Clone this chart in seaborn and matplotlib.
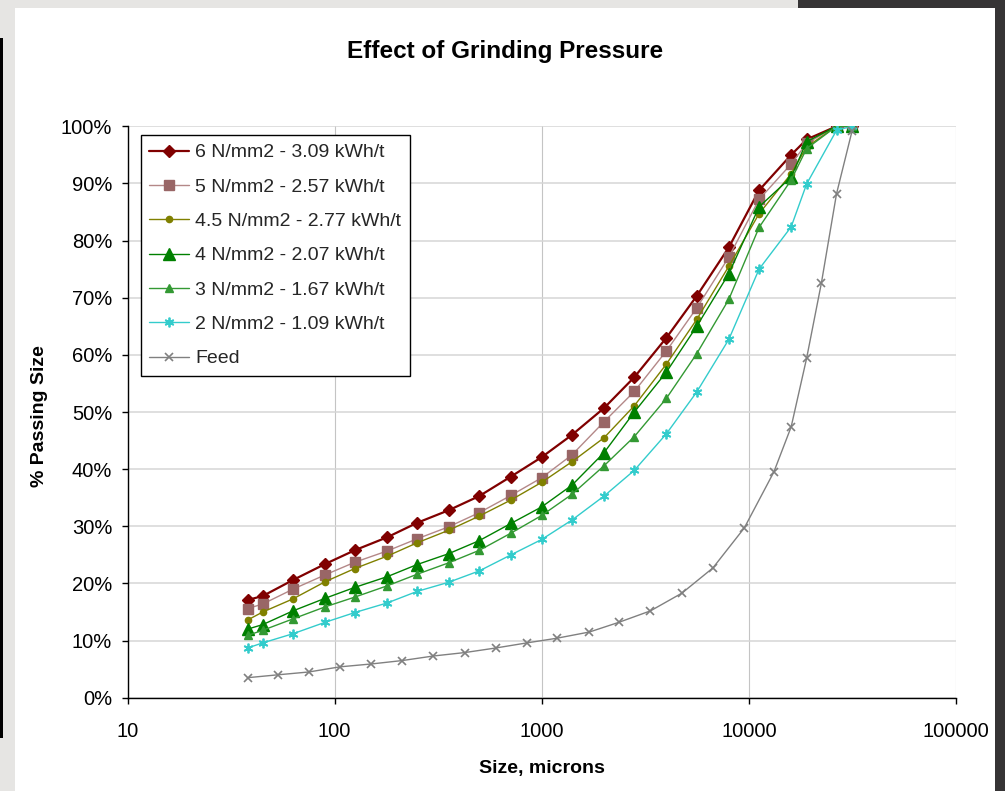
import matplotlib
matplotlib.use("Agg")
import matplotlib.pyplot as plt
from matplotlib.patches import Rectangle
from matplotlib.ticker import PercentFormatter, FixedLocator, FixedFormatter, NullLocator
import seaborn as sns
import pandas as pd

# ---------------- data ----------------
sizes = [38, 45, 63, 90, 125, 180, 250, 355, 500, 710, 1000, 1400, 2000, 2800,
         4000, 5600, 8000, 11200, 16000, 19000, 26500, 31500]
p6 = [17.1, 17.8, 20.6, 23.4, 25.8, 28.1, 30.6, 32.8, 35.3, 38.7, 42.1, 46.0,
      50.7, 56.1, 63.0, 70.3, 78.8, 88.8, 95.0, 97.7, 100, 100]
p5 = [15.6, 16.4, 19.0, 21.5, 23.7, 25.7, 27.8, 29.9, 32.4, 35.4, 38.5, 42.5,
      48.3, 53.6, 60.7, 68.2, 77.1, 87.2, 93.4, 97.0, 100, 100]
p45 = [13.6, 15.0, 17.3, 20.3, 22.6, 24.8, 27.1, 29.3, 31.8, 34.6, 37.7, 41.3,
       45.5, 51.1, 58.4, 66.2, 75.5, 84.7, 91.7, 96.4, 100, 100]
p4 = [12.0, 12.8, 15.2, 17.4, 19.3, 21.2, 23.3, 25.2, 27.5, 30.5, 33.4, 37.2,
      42.9, 50.0, 57.0, 65.0, 74.2, 85.9, 91.1, 97.3, 100, 100]
p3 = [10.9, 11.8, 13.8, 15.9, 17.6, 19.6, 21.6, 23.6, 25.8, 28.8, 31.9, 35.6,
      40.6, 45.7, 52.4, 60.2, 69.7, 82.3, 90.6, 96.1, 100, 100]
p2 = [8.7, 9.6, 11.2, 13.2, 14.9, 16.6, 18.6, 20.2, 22.2, 25.0, 27.7, 31.1,
      35.3, 39.8, 46.2, 53.5, 62.7, 75.0, 82.4, 89.9, 99.3, 100]
feed_sizes = [38, 53, 75, 106, 150, 212, 300, 425, 600, 850, 1180, 1700, 2360,
              3350, 4750, 6700, 9500, 13200, 16000, 19000, 22400, 26500, 31500]
feed = [3.5, 4.0, 4.5, 5.4, 5.9, 6.5, 7.3, 7.9, 8.7, 9.6, 10.4, 11.5, 13.2,
        15.2, 18.3, 22.7, 29.7, 39.5, 47.4, 59.4, 72.6, 88.2, 99.2]

labels = ["6 N/mm2 - 3.09 kWh/t", "5 N/mm2 - 2.57 kWh/t", "4.5 N/mm2 - 2.77 kWh/t",
          "4 N/mm2 - 2.07 kWh/t", "3 N/mm2 - 1.67 kWh/t", "2 N/mm2 - 1.09 kWh/t", "Feed"]
x_ticks = [10, 100, 1000, 10000, 100000]
x_tick_labels = ["10", "100", "1000", "10000", "100000"]
y_ticks = [0, 0.1, 0.2, 0.3, 0.4, 0.5, 0.6, 0.7, 0.8, 0.9, 1.0]

# ---------------- style ----------------
sns.set_theme(style="white")
plt.rcParams["font.family"] = ["Liberation Sans", "DejaVu Sans"]

fig = plt.figure(figsize=(10.05, 7.91), dpi=100)
fig.patch.set_facecolor("#e6e5e3")
# screenshot frame
fig.add_artist(Rectangle((15/1005, 0), 980/1005, 783/791, transform=fig.transFigure,
                         facecolor="white", edgecolor="none", zorder=-10))
fig.add_artist(Rectangle((798/1005, 783/791), 207/1005, 8/791, transform=fig.transFigure,
                         facecolor="#363435", edgecolor="none", zorder=-10))
fig.add_artist(Rectangle((995/1005, 0), 10/1005, 1, transform=fig.transFigure,
                         facecolor="#363435", edgecolor="none", zorder=-10))
fig.add_artist(Rectangle((0, 53/791), 2.5/1005, 700/791, transform=fig.transFigure,
                         facecolor="black", edgecolor="none", zorder=-10))

ax = fig.add_axes([127.5/1005, 1-697.7/791, 828.5/1005, 571.4/791])
ax.set_facecolor("white")

series = [
    dict(x=sizes, y=p6, label=labels[0], color="#800000", mfc="#800000", mec="#800000",
         marker="D", ms=6.5, lw=1.6, mew=1),
    dict(x=sizes, y=p5, label=labels[1], color="#b48888", mfc="#996666", mec="#996666",
         marker="s", ms=6.5, lw=1.0, mew=1),
    dict(x=sizes, y=p45, label=labels[2], color="#808000", mfc="#808000", mec="#808000",
         marker="o", ms=4.5, lw=1.0, mew=1),
    dict(x=sizes, y=p4, label=labels[3], color="#008000", mfc="#008000", mec="#008000",
         marker="^", ms=8.5, lw=1.0, mew=1),
    dict(x=sizes, y=p3, label=labels[4], color="#339933", mfc="#339933", mec="#339933",
         marker="^", ms=6, lw=1.0, mew=1),
    dict(x=sizes, y=p2, label=labels[5], color="#33cccc", mfc="#33cccc", mec="#33cccc",
         marker=(6, 2, 0), ms=7, lw=1.0, mew=1.3),
    dict(x=feed_sizes, y=feed, label=labels[6], color="#808080", mfc="#808080", mec="#808080",
         marker="x", ms=6, lw=1.0, mew=1.2),
]

for s in series:
    df = pd.DataFrame({"size": s["x"], "passing": [v / 100 for v in s["y"]]})
    sns.lineplot(data=df, x="size", y="passing", ax=ax, label=s["label"],
                 color=s["color"], marker=s["marker"], markersize=s["ms"],
                 markerfacecolor=s["mfc"], markeredgecolor=s["mec"],
                 markeredgewidth=s["mew"], linewidth=s["lw"],
                 estimator=None, sort=False, zorder=3)

ax.set_xscale("log")
ax.set_xlim(10, 100000)
ax.set_ylim(0, 1)
ax.xaxis.set_major_locator(FixedLocator(x_ticks))
ax.xaxis.set_major_formatter(FixedFormatter(x_tick_labels))
ax.xaxis.set_minor_locator(NullLocator())
ax.yaxis.set_major_locator(FixedLocator(y_ticks))
ax.yaxis.set_major_formatter(PercentFormatter(1.0, decimals=0))

ax.grid(False)
ax.xaxis.grid(True, color="#c4c4c4", linewidth=0.8, zorder=0)
ax.yaxis.grid(True, color="#d6d6d6", linewidth=1.1, zorder=0)
ax.set_axisbelow(True)

for side in ["top", "right"]:
    ax.spines[side].set_visible(False)
for side in ["left", "bottom"]:
    ax.spines[side].set_color("black")
    ax.spines[side].set_linewidth(1.0)

ax.tick_params(axis="both", which="major", direction="out", length=4.5, width=1.0,
               color="black", labelsize=14.5, labelcolor="black", bottom=True, left=True)
ax.tick_params(axis="x", pad=13)
ax.tick_params(axis="y", pad=6.5)

ax.set_xlabel("")
ax.set_ylabel("")
fig.text(542/1005, 1-772.7/791, "Size, microns", ha="center", va="baseline",
         fontsize=14, fontweight="bold", color="black")
fig.text(40/1005, 1-416/791, "% Passing Size", ha="center", va="center", rotation=90,
         fontsize=14, fontweight="bold", color="black")
fig.text(505/1005, 1-58.3/791, "Effect of Grinding Pressure", ha="center", va="baseline",
         fontsize=17.5, fontweight="bold", color="black")

leg = ax.legend(loc="upper left", bbox_to_anchor=(0.0159, 0.9848), borderaxespad=0,
                fontsize=14, frameon=True, fancybox=False, shadow=False,
                handlelength=2.05, handletextpad=0.3, labelspacing=0.86, borderpad=0.45,
                framealpha=1)
leg.get_frame().set_edgecolor("black")
leg.get_frame().set_linewidth(1.0)
leg.get_frame().set_facecolor("white")

fig.savefig("out.png", dpi=100, facecolor=fig.get_facecolor())
